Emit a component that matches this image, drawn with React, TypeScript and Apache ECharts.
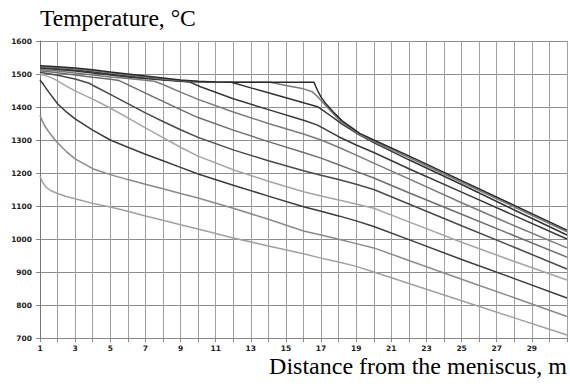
import React, { useEffect, useRef } from "react";
import * as echarts from "echarts";

type Pt = [number, number];

// x: distance from meniscus (m), y: temperature (°C)
const curveA: Pt[] = [[1,1190],[1.15,1172],[1.34,1157],[1.6,1147],[2,1138],[2.5,1129],[3,1122],[4,1108],[5,1097],[6,1084],[7,1070],[8,1057],[9,1043],[10,1030],[12,1003],[14,979],[16,955],[17,942],[18,930],[19,917],[20,900],[22,865],[25,813],[28,761],[31,709]];
const curveB: Pt[] = [[1,1375],[1.15,1355],[1.3,1340],[1.5,1325],[1.9,1297],[2.5,1265],[3,1243],[4,1213],[5,1195],[6,1180],[7,1166],[8,1152],[9,1138],[10,1124],[12,1093],[14,1060],[16,1024],[17,1012],[18,999],[19,986],[20,973],[22,935],[25,878],[28,822],[31,765]];
const curveC: Pt[] = [[1,1482],[1.2,1468],[1.5,1445],[2,1410],[2.5,1385],[3,1364],[4,1330],[5,1300],[6,1278],[7,1257],[8,1237],[9,1217],[10,1197],[12,1163],[14,1130],[16,1098],[17,1084],[18,1070],[19,1055],[20,1038],[22,998],[25,938],[28,880],[31,821]];
const curveD: Pt[] = [[1,1500],[1.5,1492],[1.9,1482],[2.6,1460],[3,1449],[4,1424],[5,1397],[6,1367],[7,1337],[8,1307],[9,1278],[10,1251],[12,1210],[14,1175],[16,1143],[17,1130],[18,1118],[19,1106],[20,1093],[22,1052],[25,990],[28,932],[31,876]];
const curveE: Pt[] = [[1,1505],[2,1496],[3,1485],[3.8,1472],[4,1466],[5,1438],[6,1410],[7,1382],[8,1356],[9,1331],[10,1308],[12,1270],[14,1237],[16,1207],[17,1193],[18,1180],[19,1166],[20,1150],[22,1106],[25,1040],[28,975],[31,909]];
const curveF: Pt[] = [[1,1510],[2,1504],[3,1497],[4,1490],[5,1484],[5.5,1480],[6,1468],[7,1442],[8,1417],[9,1392],[10,1368],[12,1330],[14,1295],[16,1262],[17,1245],[18,1225],[19,1205],[20,1185],[22,1140],[25,1075],[28,1010],[31,945]];
const curveG: Pt[] = [[1,1514],[2,1509],[3,1503],[4,1497],[5,1491],[6,1486],[7,1481],[7.5,1478],[8,1468],[9,1445],[10,1423],[12,1385],[14,1350],[16,1318],[17,1300],[18,1278],[19,1254],[20,1230],[22,1182],[25,1110],[28,1040],[31,973]];
const curveH: Pt[] = [[1,1518],[2,1514],[3,1509],[4,1503],[5,1497],[6,1491],[7,1486],[8,1482],[9,1478],[9.5,1476],[10.1,1462],[12,1425],[14,1392],[16,1360],[16.8,1345],[18,1310],[19,1285],[20,1262],[22,1213],[25,1142],[28,1071],[31,1000]];
const curveI: Pt[] = [[1,1520],[2,1517],[3,1512],[4,1507],[5,1500],[6,1494],[7,1488],[8,1483],[9,1479],[10,1476],[11.9,1475],[13,1458],[14,1443],[15,1428],[16,1413],[16.8,1401],[17.5,1375],[18.2,1348],[19.2,1315],[20,1292],[22,1240],[25,1165],[28,1088],[31,1012]];
const curveJ: Pt[] = [[1,1522],[2,1519],[3,1515],[4,1510],[5,1503],[6,1497],[7,1491],[8,1485],[9,1480],[10,1477],[11,1475],[14.1,1475],[15,1465],[16,1455],[16.5,1446],[16.8,1432],[17,1420],[17.3,1402],[18,1362],[19.2,1316],[20,1296],[22,1247],[25,1172],[28,1097],[31,1022]];
const curveK: Pt[] = [[1,1525],[2,1522],[3,1518],[4,1513],[5,1506],[6,1500],[7,1494],[8,1488],[9,1482],[10,1478],[11,1476],[12,1475],[16.6,1475],[16.7,1462],[16.8,1450],[17,1430],[17.3,1408],[17.7,1385],[18.2,1358],[19.2,1320],[20,1300],[22,1252],[25,1177],[28,1102],[31,1027]];

const curves: Pt[][] = [curveA, curveB, curveC, curveD, curveE, curveF, curveG, curveH, curveI, curveJ, curveK];
const curveColors = ["#a0a0a0", "#8a8a8a", "#3c3c3c", "#a5a5a5", "#4a4a4a", "#6e6e6e", "#7a7a7a", "#383838", "#333333", "#7a7a7a", "#2a2a2a"];

const titleText = "Temperature, °C";
const xAxisTitle = "Distance from the meniscus, m";

export default function App() {
  const ref = useRef<HTMLDivElement>(null);
  useEffect(() => {
    if (!ref.current) return;
    const chart = echarts.init(ref.current, null, { renderer: "svg" });
    chart.setOption({
      animation: false,
      backgroundColor: "#ffffff",
      grid: { left: 40, top: 41, right: 0, bottom: 48, containLabel: false },
      xAxis: {
        type: "value",
        min: 1,
        max: 31,
        interval: 1,
        axisLine: { show: true, lineStyle: { color: "#888", width: 1 } },
        axisTick: { show: true, inside: false, length: 4, lineStyle: { color: "#888" } },
        splitLine: { show: true, lineStyle: { color: "#a0a0a0", width: 1 } },
        axisLabel: {
          margin: 6,
          fontSize: 7.5,
          fontWeight: "bold",
          fontFamily: "DejaVu Sans",
          color: "#222",
          showMaxLabel: true,
          formatter: (v: number) => (v % 2 === 1 && v < 31 ? String(v) : ""),
        },
      },
      yAxis: {
        type: "value",
        min: 700,
        max: 1600,
        interval: 100,
        axisLine: { show: true, lineStyle: { color: "#777", width: 1 } },
        axisTick: { show: true, inside: false, length: 4, lineStyle: { color: "#888" } },
        splitLine: { show: true, lineStyle: { color: "#8c8c8c", width: 1 } },
        axisLabel: {
          margin: 8,
          fontSize: 7.5,
          fontWeight: "bold",
          fontFamily: "DejaVu Sans",
          color: "#222",
          formatter: (v: number) => String(v),
        },
      },
      graphic: [
        {
          type: "text",
          left: 40,
          top: 6,
          style: { text: titleText, font: '23.6px "Liberation Serif"', fill: "#000" },
        },
        {
          type: "text",
          right: 3,
          top: 354,
          style: { text: xAxisTitle, font: '24px "Liberation Serif"', fill: "#000" },
        },
      ],
      series: curves.map((c, i) => ({
        type: "line",
        data: c,
        showSymbol: false,
        smooth: false,
        clip: true,
        lineStyle: { color: curveColors[i], width: 1.5 },
        z: 3 + i,
      })),
    });
    return () => chart.dispose();
  }, []);
  return <div ref={ref} style={{ position: "fixed", left: 0, top: 0, width: 570, height: 386 }} />;
}
